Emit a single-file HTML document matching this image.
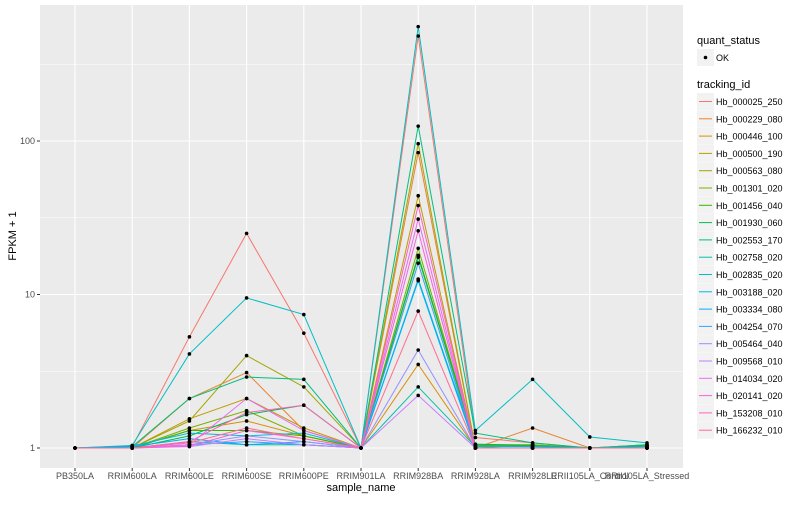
<!DOCTYPE html>
<html><head><meta charset="utf-8"><style>
body{margin:0;background:#fff;}
svg{font-family:"Liberation Sans",sans-serif;}
</style></head><body>
<svg id="chart" width="800" height="500">
</svg>
<script>
const samples=["PB350LA","RRIM600LA","RRIM600LE","RRIM600SE","RRIM600PE","RRIM901LA","RRIM928BA","RRIM928LA","RRIM928LE","RRII105LA_Control","RRII105LA_Stressed"];
const trackingIds=["Hb_000025_250","Hb_000229_080","Hb_000446_100","Hb_000500_190","Hb_000563_080","Hb_001301_020","Hb_001456_040","Hb_001930_060","Hb_002553_170","Hb_002758_020","Hb_002835_020","Hb_003188_020","Hb_003334_080","Hb_004254_070","Hb_005464_040","Hb_009568_010","Hb_014034_020","Hb_020141_020","Hb_153208_010","Hb_166232_010"];
const colors=["#F8766D","#EA8331","#D89000","#C09B00","#A3A500","#7CAE00","#39B600","#00BB4E","#00BF7D","#00C1A3","#00BFC4","#00BAE0","#00B0F6","#35A2FF","#9590FF","#C77CFF","#E76BF3","#FA62DB","#FF62BC","#FF6C91"];
const s00=[1,1.02,5.3,25,5.6,1,483,1.17,1.08,1,1.02];
const s01=[1,1.0,2.1,3.1,1.3,1,84,1.0,1.35,1,1];
const s02=[1,1,1.3,1.5,1.2,1,3.5,1,1.0,1,1];
const s03=[1,1,1.55,2.1,1.35,1,44,1,1,1,1];
const s04=[1,1,1.5,4.0,2.5,1,96,1,1.05,1,1];
const s05=[1,1,1.35,1.75,1.2,1,20,1.05,1.05,1,1.05];
const s06=[1,1,1.3,1.3,1.2,1,17.5,1.04,1.03,1,1.04];
const s07=[1,1,1.2,1.65,1.9,1,18,1.06,1.04,1,1.03];
const s08=[1,1.02,2.1,2.9,2.8,1,125,1.25,1.08,1,1.05];
const s09=[1,1.0,1.1,1.05,1.05,1,2.5,1.02,1.02,1,1];
const s10=[1,1.04,4.1,9.5,7.4,1,556,1.3,2.8,1.18,1.08];
const s11=[1,1.03,1.25,1.2,1.25,1,12.6,1.03,1.02,1,1.02];
const s12=[1,1.02,1.15,1.05,1.1,1,12.3,1,1,1,1];
const s13=[1,1,1.05,1.1,1.05,1,16,1,1,1,1];
const s14=[1,1,1.05,1.2,1.1,1,4.35,1,1,1,1];
const s15=[1,1,1.02,1.15,1.05,1,2.2,1,1,1,1];
const s16=[1,1,1.05,2.1,1.3,1,31,1,1,1,1];
const s17=[1,1,1.03,1.3,1.15,1,26,1,1,1,1];
const s18=[1,1,1.1,1.7,1.9,1,38,1,1,1,1];
const s19=[1,1,1.08,1.35,1.15,1,7.8,1,1,1,1];
const series=[s00,s01,s02,s03,s04,s05,s06,s07,s08,s09,s10,s11,s12,s13,s14,s15,s16,s17,s18,s19];
const yTicks=[1,10,100];
const yTickLabels=["1","10","100"];

const NS="http://www.w3.org/2000/svg";
const svg=document.getElementById('chart');
const PL=40,PR=683,PT=5,PB=468;
function x(i){return 75+i*57.2;}
function y(v){return 448-Math.log10(v)*153.5;}
function el(tag,attrs,parent){const e=document.createElementNS(NS,tag);for(const k in attrs)e.setAttribute(k,attrs[k]);(parent||svg).appendChild(e);return e;}

const panel=el('rect',{x:PL,y:PT,width:PR-PL,height:PB-PT,fill:'#EBEBEB'});


// minor grid
for(let d=-1;d<3;d++){const yy=y(Math.pow(10,d+0.5));if(yy>PT&&yy<PB){const g=el('line',{x1:PL,x2:PR,y1:yy,y2:yy,stroke:'#fff','stroke-width':0.5});}}
yTicks.forEach((t,i)=>{const yy=y(t);
const g=el('line',{x1:PL,x2:PR,y1:yy,y2:yy,stroke:'#fff','stroke-width':1.1});

const tk=el('line',{x1:PL-3,x2:PL,y1:yy,y2:yy,stroke:'#333','stroke-width':1});

const tx=el('text',{x:PL-5,y:yy+3,'text-anchor':'end','font-size':9,fill:'#4D4D4D'});tx.textContent=yTickLabels[i];
});
samples.forEach((s,i)=>{const xx=x(i);
const g=el('line',{x1:xx,x2:xx,y1:PT,y2:PB,stroke:'#fff','stroke-width':1.1});

const tk=el('line',{x1:xx,x2:xx,y1:PB,y2:PB+3,stroke:'#333','stroke-width':1});

const tx=el('text',{x:xx,y:PB+11,'text-anchor':'middle','font-size':9,fill:'#4D4D4D'});tx.textContent=s;
});
series.forEach((vals,k)=>{
const p=el('polyline',{points:vals.map((v,i)=>x(i)+','+y(v)).join(' '),fill:'none',stroke:colors[k],'stroke-width':1});
});
series.forEach((vals,k)=>{vals.forEach((v,i)=>{
const c=el('circle',{cx:x(i),cy:y(v),r:1.8,fill:'#000'});
});});
let t=el('text',{x:361,y:491,'text-anchor':'middle','font-size':11,fill:'#000'});t.textContent='sample_name';

t=el('text',{x:0,y:0,'text-anchor':'middle','font-size':11,fill:'#000',transform:'translate(16,236) rotate(-90)'});t.textContent='FPKM + 1';

// legend
t=el('text',{x:697,y:44,'font-size':11,fill:'#000'});t.textContent='quant_status';

let r=el('rect',{x:697,y:49,width:17,height:17,fill:'#F2F2F2'});
el('circle',{cx:705.5,cy:57.5,r:1.8,fill:'#000'});
t=el('text',{x:716,y:61,'font-size':9,fill:'#000'});t.textContent='OK';

t=el('text',{x:697,y:88,'font-size':11,fill:'#000'});t.textContent='tracking_id';

trackingIds.forEach((id,k)=>{const yy=93+k*17.3;
const g=el('g',{});
el('rect',{x:697,y:yy,width:17,height:17,fill:'#F2F2F2'},g);
el('line',{x1:699,x2:712,y1:yy+8.5,y2:yy+8.5,stroke:colors[k],'stroke-width':1},g);
const tx=el('text',{x:716,y:yy+12,'font-size':9,fill:'#000'},g);tx.textContent=id;});
</script>
</body></html>
